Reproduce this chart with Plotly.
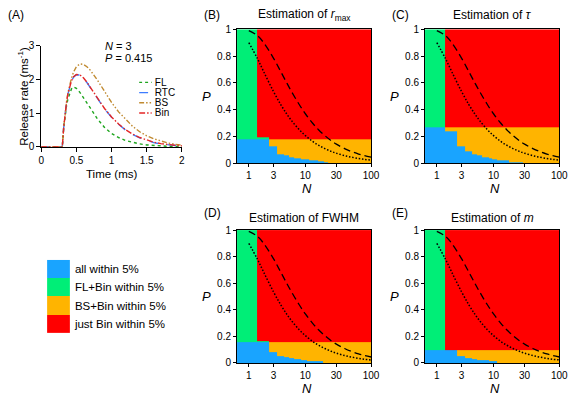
import numpy as np
import plotly.graph_objects as go

W, H = 576, 401
FONT = "Liberation Sans, Arial, sans-serif"


def fx(x):
    return x / W


def fy(y):
    return 1 - y / H


# ---------------- Panel A data ----------------
time_ms = [0, 0.3, 0.32, 0.34, 0.36, 0.38, 0.4, 0.43, 0.46, 0.5, 0.55, 0.6, 0.65, 0.7,
           0.8, 0.9, 1.0, 1.1, 1.2, 1.3, 1.4, 1.5, 1.6, 1.7, 1.8, 1.9, 2.0]
fl_rate = [0, 0, 0.55, 0.95, 1.22, 1.42, 1.56, 1.72, 1.78, 1.74, 1.62, 1.47, 1.31, 1.15,
           0.83, 0.58, 0.40, 0.28, 0.19, 0.13, 0.09, 0.06, 0.04, 0.03, 0.02, 0.015, 0.01]
rtc_rate = [0, 0, 0.58, 1.0, 1.32, 1.57, 1.75, 1.95, 2.07, 2.14, 2.13, 2.04, 1.91, 1.75,
            1.43, 1.13, 0.88, 0.67, 0.50, 0.37, 0.27, 0.19, 0.13, 0.09, 0.06, 0.045, 0.03]
bs_rate = [0, 0, 0.58, 1.0, 1.33, 1.6, 1.8, 2.04, 2.22, 2.38, 2.46, 2.45, 2.38, 2.27,
           1.98, 1.65, 1.32, 1.04, 0.81, 0.61, 0.45, 0.33, 0.24, 0.17, 0.12, 0.08, 0.055]
bin_rate = [0, 0, 0.58, 1.0, 1.32, 1.57, 1.76, 1.96, 2.08, 2.15, 2.14, 2.05, 1.92, 1.76,
            1.44, 1.14, 0.89, 0.68, 0.51, 0.38, 0.28, 0.20, 0.14, 0.10, 0.07, 0.05, 0.035]
series_names = ["FL", "RTC", "BS", "Bin"]
series_colors = ["#1ea51e", "#3d7cff", "#c08a30", "#e32626"]
series_dash = ["dot", "dash", "5px,2px,1.5px,2px,1.5px,2px", "6px,2px,1.5px,2px"]
series_values = [fl_rate, rtc_rate, bs_rate, bin_rate]

# ---------------- Heatmap panel data ----------------
N_values = np.arange(1, 101)
category_names = ["all within 5%", "FL+Bin within 5%", "BS+Bin within 5%", "just Bin within 5%"]
category_colors = ["#19a4ff", "#00ee77", "#ffb400", "#ff0000"]

# top of the "all within 5%" region for N = 1, 2, 3, ...
B_blue_top = [0.18, 0.18, 0.125, 0.07, 0.057, 0.047, 0.04, 0.035, 0.031, 0.027, 0.027,
              0.024, 0.02, 0.02, 0.02, 0.016, 0.012, 0.012, 0.012, 0.01, 0.01, 0.008]
C_blue_top = [0.265, 0.238, 0.123, 0.085, 0.068, 0.056, 0.046, 0.043, 0.035, 0.03, 0.029,
              0.022, 0.019, 0.019, 0.019, 0.019, 0.019, 0.01, 0.01, 0.01, 0.01, 0.01,
              0.01, 0.01, 0.01, 0.01, 0.01, 0.01]
D_blue_top = [0.155, 0.155, 0.083, 0.053, 0.042, 0.035, 0.029, 0.026, 0.022, 0.02,
              0.012, 0.012, 0.012, 0.012, 0.012, 0.012, 0.012, 0.012]
E_blue_top = [0.095, 0.095, 0.053, 0.034, 0.027, 0.02, 0.02, 0.02, 0.012, 0.012, 0.012]
panel_blue = [B_blue_top, C_blue_top, D_blue_top, E_blue_top]
panel_threshold = [0.18, 0.265, 0.155, 0.095]      # top of BS+Bin band (N >= 3)
panel_n2_top = [0.195, 0.265, 0.168, 0.095]        # top of the N = 2 strip
panel_n2_cat = [1, 2, 1, 1]                        # category of the N = 2 strip
panel_titles = ["Estimation of <i>r</i><sub>max</sub>", "Estimation of <i>τ</i>",
                "Estimation of FWHM", "Estimation of <i>m</i>"]
panel_letters = ["(B)", "(C)", "(D)", "(E)"]

# reference curves
ref_N = [1, 1.5, 2, 3, 4, 5, 6, 8, 10, 13, 16, 20, 25, 30, 40, 50, 65, 80, 100]
dashed_P = [0.99, 0.954, 0.9, 0.785, 0.684, 0.602, 0.536, 0.438, 0.369, 0.298, 0.25,
            0.206, 0.168, 0.142, 0.109, 0.088, 0.068, 0.056, 0.045]
dotted_P = [0.9, 0.785, 0.684, 0.536, 0.438, 0.369, 0.319, 0.25, 0.206, 0.162, 0.134,
            0.109, 0.088, 0.074, 0.056, 0.045, 0.035, 0.028, 0.023]

N_ticks = [1, 3, 10, 30, 100]
P_ticks = [0, 0.2, 0.4, 0.6, 0.8, 1]

# ---------------- Figure ----------------
fig = go.Figure()

# discrete colorscale
cs = []
for k, c in enumerate(category_colors):
    cs.append([k / 4, c])
    cs.append([(k + 1) / 4, c])


def build_z(blue, thr, n2top, n2cat):
    blue_full = np.zeros(len(N_values))
    blue_full[:len(blue)] = blue
    edges = np.unique(np.concatenate([[0.0, 1.0, thr, n2top], blue_full]))
    mids = (edges[:-1] + edges[1:]) / 2
    z = np.full((len(mids), len(N_values)), 3)
    for i, n in enumerate(N_values):
        for j, m in enumerate(mids):
            if m < blue_full[i]:
                c = 0
            elif n == 1:
                c = 1
            elif n == 2:
                c = n2cat if m < n2top else 3
            else:
                c = 2 if m < thr else 3
            z[j, i] = c
    return edges, z


# plotted position of N on the log axis (cells centred at N + 0.5)
x_edges = np.append(N_values, N_values[-1] + 1).astype(float)
ref_x = [n + 0.5 for n in ref_N]

# ---- Panel A traces
for name, vals, col, dash in zip(series_names, series_values, series_colors, series_dash):
    fig.add_trace(go.Scatter(x=time_ms, y=vals, mode="lines", name=name,
                             line=dict(color=col, width=1.4, dash=dash),
                             xaxis="x", yaxis="y", showlegend=False))

# ---- Heatmap panels
boxes_x = [(239, 376), (431, 568.3), (239, 376), (431, 568.3)]
boxes_y = [(24, 162), (24, 162), (231, 368), (231, 368)]

annotations = []
for k in range(4):
    ax = str(k + 2)
    edges, z = build_z(panel_blue[k], panel_threshold[k], panel_n2_top[k], panel_n2_cat[k])
    fig.add_trace(go.Heatmap(x=x_edges, y=edges, z=z, colorscale=cs, zmin=-0.5, zmax=3.5,
                             showscale=False, xaxis="x" + ax, yaxis="y" + ax,
                             hoverinfo="skip"))
    fig.add_trace(go.Scatter(x=ref_x, y=dashed_P, mode="lines", line_shape="spline",
                             line=dict(color="black", width=1.3, dash="7px,4px"),
                             xaxis="x" + ax, yaxis="y" + ax, showlegend=False))
    fig.add_trace(go.Scatter(x=ref_x, y=dotted_P, mode="lines", line_shape="spline",
                             line=dict(color="black", width=1.5, dash="1.5px,1.8px"),
                             xaxis="x" + ax, yaxis="y" + ax, showlegend=False))
    x0, x1 = boxes_x[k]
    y0, y1 = boxes_y[k]
    fig.update_layout(**{
        "xaxis" + ax: dict(domain=[fx(x0), fx(x1)], anchor="y" + ax, type="log",
                           range=[0, np.log10(101)],
                           tickvals=[n + 0.5 for n in N_ticks],
                           ticktext=[str(n) for n in N_ticks],
                           ticks="outside", ticklen=3, tickcolor="black",
                           showline=True, mirror=True, linecolor="black", linewidth=1,
                           showgrid=False, zeroline=False,
                           tickfont=dict(size=10, color="black")),
        "yaxis" + ax: dict(domain=[fy(y1), fy(y0)], anchor="x" + ax, range=[0, 1],
                           tickvals=P_ticks, ticktext=["0", "0.2", "0.4", "0.6", "0.8", "1"],
                           ticks="outside", ticklen=3, tickcolor="black",
                           showline=True, mirror=True, linecolor="black", linewidth=1,
                           showgrid=False, zeroline=False,
                           tickfont=dict(size=10, color="black")),
    })
    cx = (x0 + x1) / 2
    ty = 9 if k < 2 else 219
    ly = 9 if k < 2 else 213
    annotations.append(dict(text=panel_titles[k], x=fx(cx), y=fy(ty), xanchor="center",
                            yanchor="middle", font=dict(size=12)))
    annotations.append(dict(text=panel_letters[k], x=fx(x0 - 36), y=fy(ly), xanchor="left",
                            yanchor="middle", font=dict(size=12)))
    annotations.append(dict(text="<i>P</i>", x=fx(x0 - 31), y=fy((y0 + y1) / 2),
                            xanchor="center", yanchor="middle", font=dict(size=13)))
    annotations.append(dict(text="<i>N</i>", x=fx(cx + 3), y=fy(y1 + 26),
                            xanchor="center", yanchor="middle", font=dict(size=13)))

# ---- Category key
fig.add_trace(go.Heatmap(x=[0], y=[0, 1, 2, 3], z=[[0], [1], [2], [3]], colorscale=cs,
                         zmin=-0.5, zmax=3.5, showscale=False, xaxis="x6", yaxis="y6",
                         hoverinfo="skip"))
# ---- Panel A line key
for i, (col, dash) in enumerate(zip(series_colors, series_dash)):
    fig.add_trace(go.Scatter(x=[0, 1], y=[i, i], mode="lines",
                             line=dict(color=col, width=1.4, dash=dash),
                             xaxis="x7", yaxis="y7", showlegend=False, hoverinfo="skip"))

fig.update_layout(
    width=W, height=H, margin=dict(l=0, r=0, t=0, b=0),
    paper_bgcolor="white", plot_bgcolor="white",
    font=dict(family=FONT, color="black", size=11),
    showlegend=False,
    xaxis=dict(domain=[fx(39), fx(182.7)], anchor="y", range=[0, 2],
               tickvals=[0, 0.5, 1, 1.5, 2], ticktext=["0", "0.5", "1", "1.5", "2"],
               ticks="outside", ticklen=4, tickcolor="black", showline=True,
               linecolor="black", linewidth=1, showgrid=False, zeroline=False,
               layer="below traces", tickfont=dict(size=10)),
    yaxis=dict(domain=[fy(145.3), fy(41)], anchor="x", range=[0, 3],
               tickvals=[0, 1, 2, 3], ticks="outside", ticklen=4, tickcolor="black",
               showline=True, linecolor="black", linewidth=1, showgrid=False,
               zeroline=False, layer="below traces", tickfont=dict(size=10)),
    xaxis6=dict(domain=[fx(45), fx(68.3)], anchor="y6", range=[-0.5, 0.5], visible=False),
    yaxis6=dict(domain=[fy(337.3), fy(261.7)], anchor="x6", range=[3.5, -0.5],
                side="right", tickvals=[0, 1, 2, 3], ticktext=category_names,
                ticks="", showline=False, showgrid=False, zeroline=False,
                ticklabelstandoff=4, tickfont=dict(size=11.5)),
    xaxis7=dict(domain=[fx(139), fx(152)], anchor="y7", range=[0, 1], visible=False),
    yaxis7=dict(domain=[fy(115.5), fy(73.5)], anchor="x7", range=[3.5, -0.5],
                side="right", tickvals=[0, 1, 2, 3], ticktext=series_names,
                ticks="", showline=False, showgrid=False, zeroline=False,
                ticklabelstandoff=2, tickfont=dict(size=10)),
)

annotations += [
    dict(text="(A)", x=fx(3), y=fy(9), xanchor="left", yanchor="middle", font=dict(size=12)),
    dict(text="Release rate (ms<sup>-1</sup>)", x=fx(21), y=fy(93), textangle=-90,
         xanchor="center", yanchor="middle", font=dict(size=11.5)),
    dict(text="Time (ms)", x=fx(111), y=fy(173), xanchor="center", yanchor="middle",
         font=dict(size=11.5)),
    dict(text="<i>N</i> = 3", x=fx(102), y=fy(41.5), xanchor="left", yanchor="middle",
         font=dict(size=11)),
    dict(text="<i>P</i> = 0.415", x=fx(102), y=fy(53.5), xanchor="left", yanchor="middle",
         font=dict(size=11)),
]
for a in annotations:
    a.update(xref="paper", yref="paper", showarrow=False)
fig.update_layout(annotations=annotations)

fig.write_html("out.html", config={"displayModeBar": False, "staticPlot": True},
               post_script="document.body.style.margin='0';")
